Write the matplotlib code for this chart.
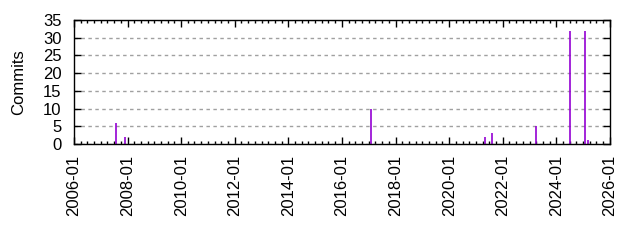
import matplotlib
matplotlib.use("Agg")
import matplotlib.pyplot as plt
import matplotlib.dates as mdates
from datetime import date

plt.rcParams['font.family'] = ['Liberation Sans', 'DejaVu Sans']

# commits per month
months = ['2007-08', '2007-12', '2017-02', '2021-05', '2021-08',
          '2023-04', '2024-07', '2025-02', '2025-03']
commits = [6, 2, 10, 2, 3, 5, 32, 32, 1]

dates = [date(int(m[:4]), int(m[5:]), 1) for m in months]

fig = plt.figure(figsize=(6.4, 2.4), dpi=100)
ax = fig.add_axes([0.1156, 0.4, 0.8375, 0.5167])

ax.vlines(dates, 0, commits, color='#9400d3', lw=1.2)

ax.set_xlim(date(2006, 1, 1), date(2026, 1, 1))
ax.set_ylim(0, 35)
ax.set_yticks(range(0, 36, 5))

ax.xaxis.set_major_locator(mdates.YearLocator(2))
ax.xaxis.set_major_formatter(mdates.DateFormatter('%Y-%m'))
ax.xaxis.set_minor_locator(mdates.MonthLocator(bymonth=[1, 4, 7, 10]))

ax.grid(axis='y', color='#a0a0a0', ls=(0, (2.5, 2.5)), lw=1)
ax.set_axisbelow(True)

ax.tick_params(which='both', direction='in', top=True, right=True,
               labelsize=12, colors='black')
ax.tick_params(which='major', length=5, width=1)
ax.tick_params(which='minor', length=2.5, width=1)
ax.tick_params(axis='x', labelrotation=90, pad=8)
ax.tick_params(axis='y', pad=9)

for s in ax.spines.values():
    s.set_linewidth(1)
    s.set_color('black')

ax.set_ylabel('Commits', fontsize=12, labelpad=12)

fig.savefig('out.png', dpi=100)
